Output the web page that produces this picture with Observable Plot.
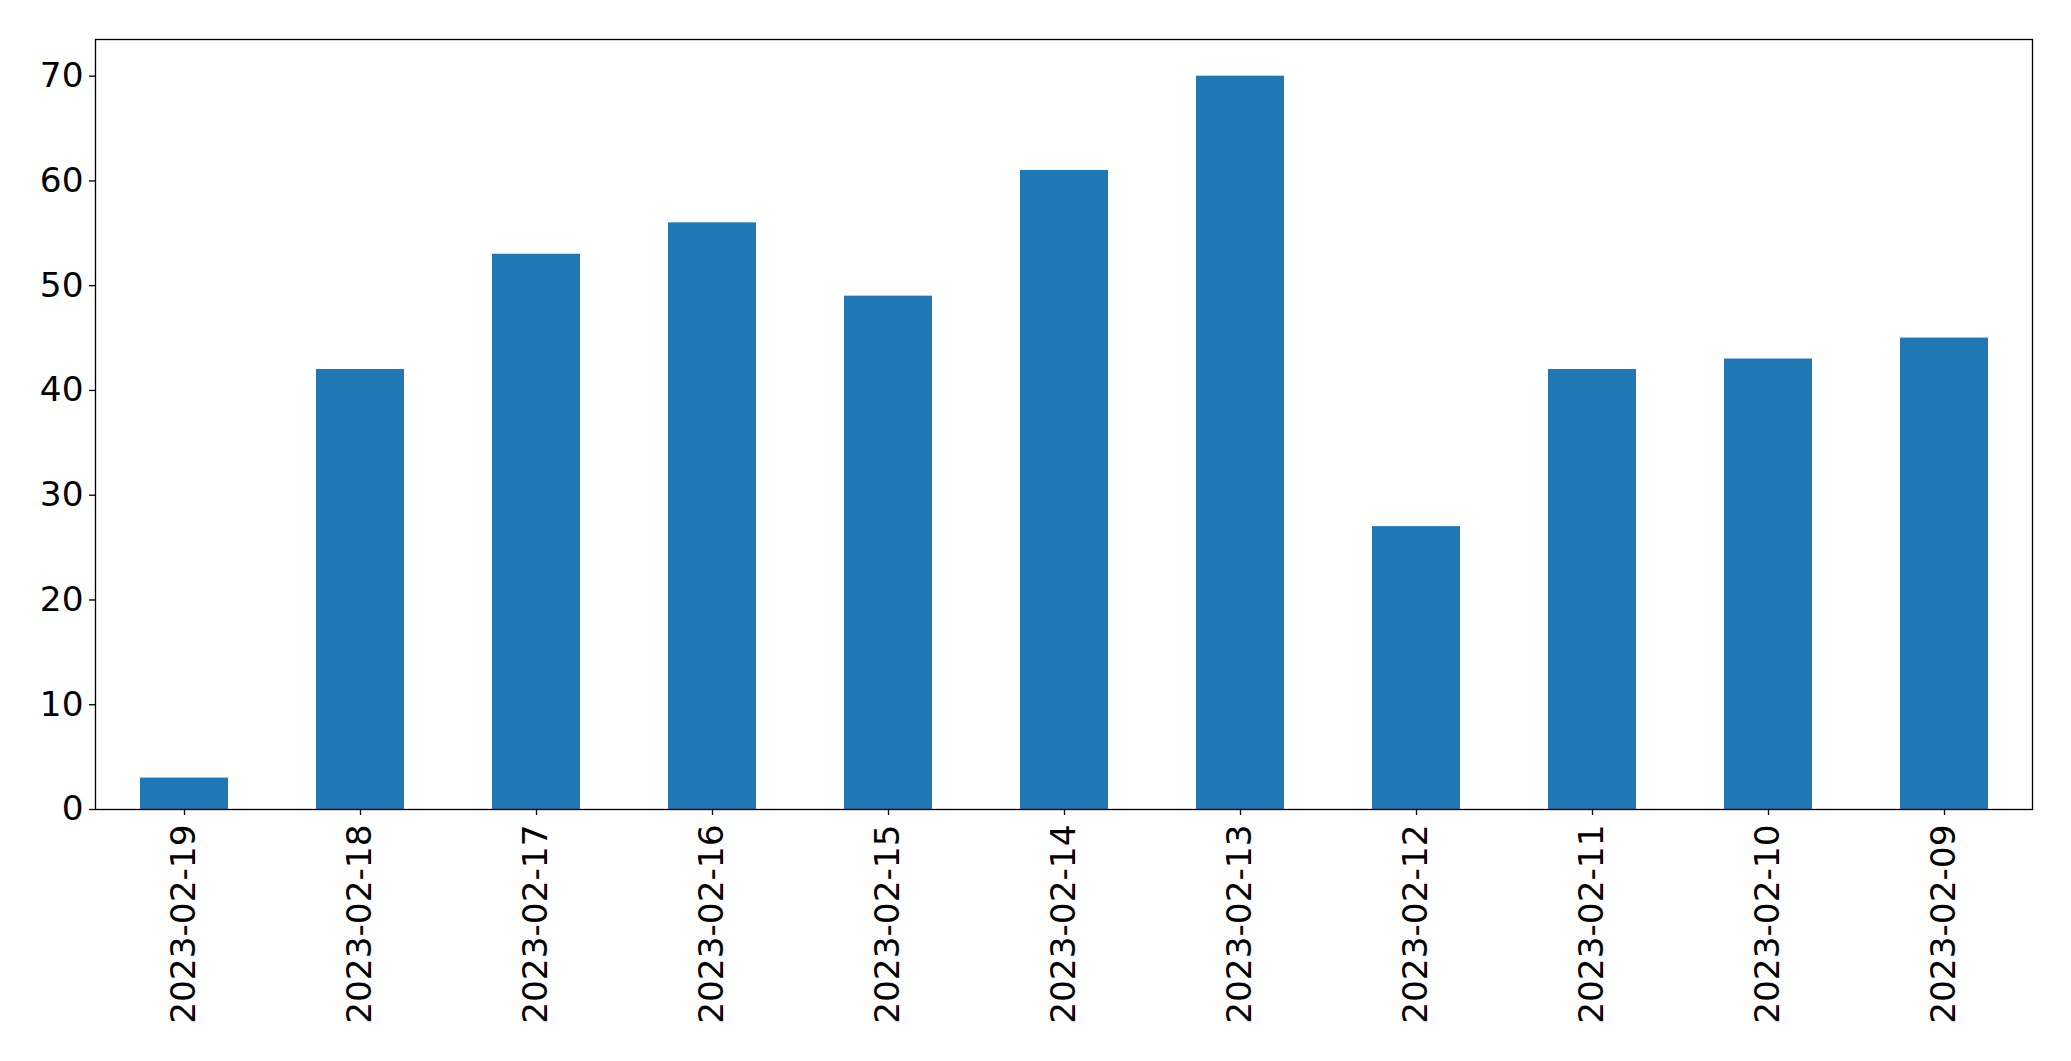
<!DOCTYPE html>
<html>
<head>
<meta charset="utf-8">
<script src="https://cdn.jsdelivr.net/npm/d3@7"></script>
<script src="https://cdn.jsdelivr.net/npm/@observablehq/plot@0.6"></script>
<style>
  html, body { margin: 0; padding: 0; background: #fff; }
  #chart svg { display: block; }
</style>
</head>
<body>
<div id="chart"></div>
<script>
const dates = ["2023-02-19","2023-02-18","2023-02-17","2023-02-16","2023-02-15","2023-02-14","2023-02-13","2023-02-12","2023-02-11","2023-02-10","2023-02-09"];
const counts = [3, 42, 53, 56, 49, 61, 70, 27, 42, 43, 45];
const yTicks = [0, 10, 20, 30, 40, 50, 60, 70];

const data = dates.map((d, i) => ({date: d, count: counts[i]}));

const chart = Plot.plot({
  width: 2071,
  height: 1061,
  marginLeft: 95,
  marginRight: 39,
  marginTop: 39,
  marginBottom: 252,
  style: {fontFamily: "DejaVu Sans", fontSize: "34.3px", color: "#000", background: "#fff"},
  x: {type: "band", domain: dates, paddingInner: 0.5, paddingOuter: 0.25, label: null},
  y: {domain: [0, 73.5], label: null},
  marks: [
    Plot.barY(data, {x: "date", y: "count", fill: "#1f77b4"}),
    Plot.frame({stroke: "#000", strokeWidth: 1.33}),
    Plot.axisY({ticks: yTicks, tickSize: 6, tickPadding: 6, strokeWidth: 1.33, label: null, fontSize: 34.3}),
    Plot.axisX({tickSize: 6, tickPadding: 9, tickRotate: -90, strokeWidth: 1.33, label: null, fontSize: 34.3})
  ]
});
document.getElementById("chart").appendChild(chart);
</script>
</body>
</html>
